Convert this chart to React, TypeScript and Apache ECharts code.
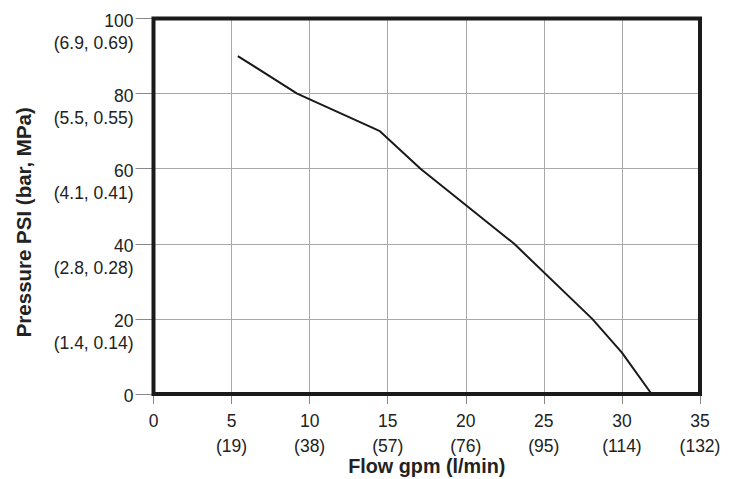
import React, { useEffect, useRef } from "react";
import * as echarts from "echarts";

const flowGpm = [5.4, 9.2, 14.5, 17.1, 23.1, 28.1, 30.0, 31.9];
const pressurePsi = [90, 80, 70, 60, 40, 20, 11, 0];

const yTickValues = [0, 20, 40, 60, 80, 100];
const yTickMetric = ["", "(1.4, 0.14)", "(2.8, 0.28)", "(4.1, 0.41)", "(5.5, 0.55)", "(6.9, 0.69)"];
const xTickValues = [0, 5, 10, 15, 20, 25, 30, 35];
const xTickMetric = ["", "(19)", "(38)", "(57)", "(76)", "(95)", "(114)", "(132)"];

const FONT = "'Liberation Sans', Arial, Helvetica, sans-serif";
const TXT = "#222";

export default function App() {
  const ref = useRef<HTMLDivElement>(null);
  useEffect(() => {
    if (!ref.current) return;
    const chart = echarts.init(ref.current, undefined, { renderer: "svg" });
    chart.setOption({
      animation: false,
      grid: {
        left: 153.5,
        top: 18.5,
        right: 37,
        bottom: 85,
        containLabel: false,
        outerBoundsMode: "none",
        show: true,
        borderColor: "#1a1a1a",
        borderWidth: 4,
        backgroundColor: "transparent",
        z: 10,
      },
      xAxis: {
        type: "value",
        min: 0,
        max: 35,
        interval: 5,
        name: "Flow gpm (l/min)",
        nameLocation: "middle",
        nameGap: 62,
        nameMoveOverlap: false,
        nameTextStyle: { fontFamily: FONT, fontWeight: "bold", fontSize: 19.8, color: TXT },
        axisLine: { show: false },
        axisTick: { show: true, length: 10, lineStyle: { color: "#888", width: 1 } },
        splitLine: { show: true, lineStyle: { color: "#a8a8a8", width: 1 } },
        axisLabel: {
          margin: 14,
          fontFamily: FONT,
          fontSize: 17.5,
          color: TXT,
          lineHeight: 25,
          showMinLabel: true,
          showMaxLabel: true,
          hideOverlap: false,
          formatter: (v: number) => {
            const i = xTickValues.indexOf(v);
            const m = i >= 0 ? xTickMetric[i] : "";
            return m ? `${v}\n${m}` : `${v}`;
          },
        },
      },
      yAxis: {
        type: "value",
        min: 0,
        max: 100,
        interval: 20,
        name: "Pressure PSI (bar, MPa)",
        nameLocation: "middle",
        nameGap: 120,
        nameMoveOverlap: false,
        nameTextStyle: {
          fontFamily: FONT,
          fontWeight: "bold",
          fontSize: 20.5,
          color: TXT,
          padding: [0, 32, 0, 0],
        },
        axisLine: { show: false },
        axisTick: { show: true, length: 18, lineStyle: { color: "#888", width: 1 } },
        splitLine: { show: true, lineStyle: { color: "#a8a8a8", width: 1 } },
        axisLabel: {
          margin: 20,
          fontFamily: FONT,
          fontSize: 17.5,
          color: TXT,
          showMinLabel: true,
          showMaxLabel: true,
          hideOverlap: false,
          rich: {
            e: { fontSize: 17.5, lineHeight: 26, fontFamily: FONT, color: TXT },
            a: { fontSize: 17.5, lineHeight: 22, fontFamily: FONT, color: TXT },
            b: { fontSize: 17.5, lineHeight: 22, fontFamily: FONT, color: TXT },
            z: { fontSize: 17.5, lineHeight: 22, fontFamily: FONT, color: TXT, padding: [4, 0, 0, 0] },
          },
          formatter: (v: number) => {
            const i = yTickValues.indexOf(v);
            const m = i >= 0 ? yTickMetric[i] : "";
            return m ? `{e| }\n{a|${v}}\n{b|${m}}` : `{z|${v}}`;
          },
        },
      },
      series: [
        {
          type: "line",
          data: flowGpm.map((x, i) => [x, pressurePsi[i]]),
          symbol: "none",
          lineStyle: { color: "#1a1a1a", width: 2 },
          z: 5,
        },
      ],
    });
    return () => chart.dispose();
  }, []);
  return <div ref={ref} style={{ width: 737, height: 479, position: "absolute", left: 0, top: 0 }} />;
}
